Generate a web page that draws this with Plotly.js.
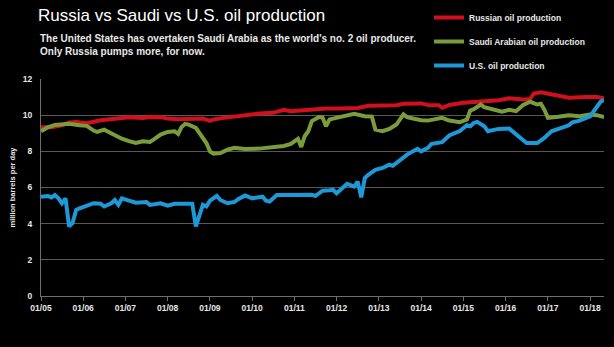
<!DOCTYPE html>
<html>
<head>
<meta charset="utf-8">
<script src="https://cdn.plot.ly/plotly-3.0.1.min.js"></script>
<style>
  html, body { margin: 0; padding: 0; background: #000; }
  #chart { width: 614px; height: 347px; }
</style>
</head>
<body>
<div id="chart"></div>
<script>
// ---- Data (million barrels per day) ----
const russiaDates = ["2005-01","2005-04","2005-07","2005-09","2005-11","2005-12","2006-02","2006-06","2006-10","2007-02","2007-06","2007-08","2007-11","2008-01","2008-04","2008-08","2008-11","2009-01","2009-02","2009-05","2009-10","2010-03","2010-07","2010-10","2010-12","2011-05","2011-10","2012-02","2012-07","2012-10","2013-03","2013-06","2013-08","2014-01","2014-03","2014-06","2014-07","2014-09","2015-01","2015-06","2015-11","2016-02","2016-06","2016-08","2016-09","2016-11","2017-01","2017-04","2017-07","2017-12","2018-03","2018-05"];
const russiaValues = [9.33,9.33,9.44,9.60,9.62,9.60,9.55,9.72,9.80,9.89,9.85,9.90,9.89,9.81,9.78,9.80,9.82,9.68,9.76,9.85,9.98,10.09,10.13,10.30,10.22,10.30,10.37,10.37,10.40,10.52,10.52,10.55,10.63,10.65,10.56,10.55,10.41,10.56,10.69,10.76,10.83,10.93,10.87,10.90,11.19,11.26,11.19,11.06,10.96,11.00,11.00,10.93];

const saudiDates = ["2005-01","2005-03","2005-05","2005-09","2005-12","2006-02","2006-04","2006-05","2006-07","2006-08","2006-10","2006-12","2007-02","2007-04","2007-06","2007-08","2007-09","2007-11","2008-01","2008-03","2008-04","2008-05","2008-06","2008-07","2008-09","2008-10","2008-12","2009-01","2009-02","2009-04","2009-06","2009-08","2009-11","2010-03","2010-07","2010-10","2010-12","2011-01","2011-02","2011-03","2011-04","2011-05","2011-06","2011-08","2011-09","2011-10","2011-11","2011-12","2012-03","2012-06","2012-09","2012-11","2012-12","2013-02","2013-04","2013-06","2013-08","2013-09","2013-11","2014-01","2014-03","2014-06","2014-07","2014-09","2014-12","2015-02","2015-03","2015-04","2015-06","2015-07","2015-10","2015-12","2016-02","2016-04","2016-06","2016-08","2016-10","2016-11","2016-12","2017-01","2017-04","2017-07","2017-10","2018-01","2018-03","2018-05"];
const saudiValues = [9.11,9.33,9.46,9.52,9.44,9.41,9.15,9.07,9.20,9.10,8.89,8.70,8.56,8.46,8.56,8.52,8.65,8.93,9.07,9.11,8.96,9.35,9.52,9.48,9.30,9.02,8.46,8.00,7.87,7.90,8.09,8.19,8.13,8.15,8.22,8.30,8.41,8.56,8.69,8.24,8.85,9.11,9.67,9.90,9.88,9.39,9.76,9.81,9.94,10.07,9.94,9.92,9.20,9.11,9.24,9.48,10.04,9.89,9.80,9.72,9.70,9.80,9.85,9.70,9.61,9.76,10.26,10.33,10.59,10.44,10.26,10.19,10.30,10.22,10.56,10.74,10.59,10.63,10.31,9.85,9.91,10.00,9.94,10.04,10.00,9.89];

const usDates = ["2005-01","2005-03","2005-04","2005-05","2005-06","2005-07","2005-08","2005-09","2005-10","2005-11","2005-12","2006-02","2006-04","2006-06","2006-07","2006-09","2006-10","2006-11","2006-12","2007-02","2007-04","2007-07","2007-08","2007-11","2008-01","2008-03","2008-06","2008-08","2008-09","2008-10","2008-11","2008-12","2009-01","2009-03","2009-04","2009-06","2009-08","2009-09","2009-11","2010-01","2010-04","2010-05","2010-06","2010-08","2010-11","2011-02","2011-06","2011-07","2011-09","2011-11","2011-12","2012-01","2012-02","2012-04","2012-06","2012-07","2012-08","2012-09","2012-10","2012-12","2013-02","2013-04","2013-05","2013-07","2013-09","2013-12","2014-01","2014-03","2014-04","2014-07","2014-09","2014-12","2015-01","2015-02","2015-03","2015-04","2015-05","2015-07","2015-08","2015-11","2016-02","2016-04","2016-07","2016-10","2016-12","2017-02","2017-05","2017-07","2017-08","2017-10","2018-01","2018-03","2018-04","2018-05"];
const usValues = [5.49,5.53,5.45,5.58,5.40,5.13,5.40,3.85,4.04,4.76,4.85,4.98,5.13,5.10,4.95,5.13,5.31,5.04,5.40,5.27,5.16,5.20,5.04,5.13,5.00,5.10,5.13,5.10,3.85,4.49,5.04,4.95,5.27,5.53,5.31,5.13,5.20,5.35,5.56,5.40,5.49,5.27,5.22,5.58,5.58,5.56,5.60,5.53,5.82,5.85,5.87,5.68,5.87,6.20,6.05,6.33,5.46,6.52,6.70,6.98,7.08,7.26,7.20,7.54,7.82,8.14,8.00,8.19,8.42,8.51,8.88,9.12,9.31,9.44,9.39,9.57,9.63,9.39,9.11,9.24,9.26,8.96,8.46,8.46,8.74,9.11,9.33,9.44,9.61,9.70,9.94,10.41,10.74,10.85];

const seriesNames = ["Russian oil production", "Saudi Arabian oil production", "U.S. oil production"];
const yTicks = [0, 2, 4, 6, 8, 10, 12];

const titleText = "Russia vs Saudi vs U.S. oil production";
const subtitleText = "The United States has overtaken Saudi Arabia as the world's no. 2 oil producer.<br>Only Russia pumps more, for now.";
const yTitleText = "million barrels per day";

// ---- Styles ----
const FONT = '"Liberation Sans", Arial, sans-serif';
const colors = ["#d0101c", "#7b9c3c", "#1e98d6"];

const traces = [
  {x: russiaDates, y: russiaValues, name: seriesNames[0], legendgroup: "a", legendrank: 1},
  {x: saudiDates, y: saudiValues, name: seriesNames[1], legendgroup: "b", legendrank: 2},
  {x: usDates, y: usValues, name: seriesNames[2], legendgroup: "c", legendrank: 3}
].map((t, i) => Object.assign(t, {
  type: "scatter",
  mode: "lines",
  line: {color: colors[i], width: 4, shape: "linear"},
  hoverinfo: "skip"
}));

const layout = {
  width: 614,
  height: 347,
  paper_bgcolor: "#000000",
  plot_bgcolor: "#000000",
  margin: {l: 41, r: 10, t: 79, b: 51, autoexpand: false},
  font: {family: FONT, color: "#e8e8e8"},
  title: {
    text: titleText,
    font: {family: FONT, size: 17, color: "#ffffff"},
    xref: "container", yref: "container",
    x: 38 / 614, xanchor: "left",
    y: 1 - 15 / 347, yanchor: "middle"
  },
  annotations: [{
    text: subtitleText,
    xref: "paper", yref: "paper",
    x: (38 - 41) / 563, xanchor: "left",
    y: (296 - 31) / 217, yanchor: "top",
    align: "left",
    showarrow: false,
    font: {family: FONT, size: 10, color: "#e8e8e8", weight: "bold"}
  }],
  showlegend: true,
  legend: {
    xref: "container", yref: "container",
    x: 429 / 614, xanchor: "left",
    y: 1 - 3 / 347, yanchor: "top",
    bgcolor: "rgba(0,0,0,0)",
    borderwidth: 0,
    tracegroupgap: 5,
    itemwidth: 30,
    font: {family: FONT, size: 8.5, color: "#e8e8e8", weight: "bold"}
  },
  xaxis: {
    type: "date",
    range: ["2005-01-01", "2018-05-01"],
    tick0: "2005-01-01",
    dtick: "M12",
    tickformat: "%m/%y",
    showgrid: false,
    showline: true,
    linecolor: "#6e6e6e",
    linewidth: 1,
    ticks: "outside",
    ticklen: 4,
    tickcolor: "#6e6e6e",
    tickfont: {family: FONT, size: 8.5, color: "#e8e8e8", weight: "bold"},
    zeroline: false,
    fixedrange: true
  },
  yaxis: {
    range: [0, 12],
    tickvals: yTicks,
    ticktext: yTicks.map(String),
    showgrid: true,
    gridcolor: "#585858",
    gridwidth: 1,
    showline: true,
    linecolor: "#6e6e6e",
    linewidth: 1,
    ticks: "",
    ticklabelstandoff: 6,
    zeroline: false,
    tickfont: {family: FONT, size: 8.5, color: "#e8e8e8", weight: "bold"},
    title: {
      text: yTitleText,
      font: {family: FONT, size: 7.5, color: "#e8e8e8", weight: "bold"},
      standoff: 6
    },
    fixedrange: true
  }
};

Plotly.newPlot("chart", traces, layout, {displayModeBar: false, staticPlot: true});
</script>
</body>
</html>
